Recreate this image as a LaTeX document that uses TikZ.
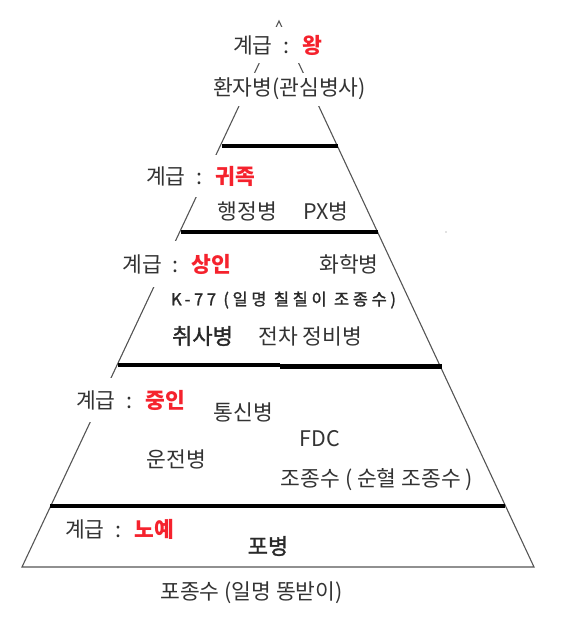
\documentclass[tikz,border=0pt]{standalone}
\usepackage{fontspec}
\setmainfont{Noto Sans CJK KR}
\definecolor{txt}{HTML}{333333}
\definecolor{rank}{HTML}{F5222D}
\definecolor{edge}{HTML}{555555}
\newcommand\rk[1]{{\color{rank}\bfseries #1}}
\newcommand\gsep{\hspace{0.5em}:\hspace{0.6em}}
\tikzset{
  lbl/.style={font=\fontsize{21.5}{24}\selectfont, text=txt, inner sep=0pt},
  cover/.style={lbl, fill=white, inner xsep=3pt},
  strong/.style={lbl, font=\fontsize{22}{24}\selectfont\addfontfeature{FakeBold=1.5}, text=txt!80!black},
  small/.style={lbl, font=\fontsize{16.5}{18}\selectfont\addfontfeature{FakeBold=1.4,LetterSpace=22}, text=txt!80!black},
  bar/.style={line width=4.5pt, black},
  side/.style={draw=edge, line width=1.1pt},
}
\begin{document}
\begin{tikzpicture}[x=1pt,y=-1pt]
\useasboundingbox (0,0) rectangle (569,622);
% pyramid
\coordinate (apex) at (279,21);
\coordinate (bl) at (22,567);
\coordinate (br) at (534,567);
\draw[side] (bl) -- (apex) -- (br) -- cycle;
% layer bars
\draw[bar] (222,146) -- (338,146);
\draw[bar] (181,232) -- (378,232);
\draw[bar] (118,365) -- (280,365);
\draw[bar] (280,366.5) -- (442,366.5);
\draw[bar] (50,506) -- (505,506);
\fill[gray] (446,232) circle (0.7);
% labels covering the edges
\node[cover, minimum height=36pt] (wang) at (277.5,45) {계급\gsep\rk{왕}};
\node[cover, minimum height=33pt] (hwanja) at (289.5,89) {환자병(관심병사)};
\node[cover, minimum height=42pt] (gwijok) at (200.5,176) {계급\gsep\rk{귀족}};
\node[cover, minimum height=46pt] (sangin) at (177,264) {계급\gsep\rk{상인}};
\node[cover, minimum height=44pt] (jungin) at (130.5,400) {계급\gsep\rk{중인}};
\node[lbl] (noye) at (119.5,529) {계급\gsep\rk{노예}};
% unit names
\node[lbl] (haeng) at (247.5,211) {행정병};
\node[lbl] (px) at (326,211) {PX병};
\node[lbl] (hwahak) at (349,264) {화학병};
\node[small] (k77) at (283.5,300) {K-77 (일명 칠칠이 조종수)};
\node[strong] (chwisa) at (202.5,336) {취사병};
\node[lbl] (jeoncha) at (310.5,336) {전차 정비병};
\node[lbl] (tongsin) at (243.5,412) {통신병};
\node[lbl] (fdc) at (320,439) {FDC};
\node[lbl] (unjeon) at (176.5,459) {운전병};
\node[lbl] (jojong) at (377,480) {조종수 ( 순혈 조종수 )};
\node[strong] (pobyeong) at (268,546) {포병};
\node[lbl] (pojong) at (251.5,593) {포종수 (일명 똥받이)};
\end{tikzpicture}
\end{document}
